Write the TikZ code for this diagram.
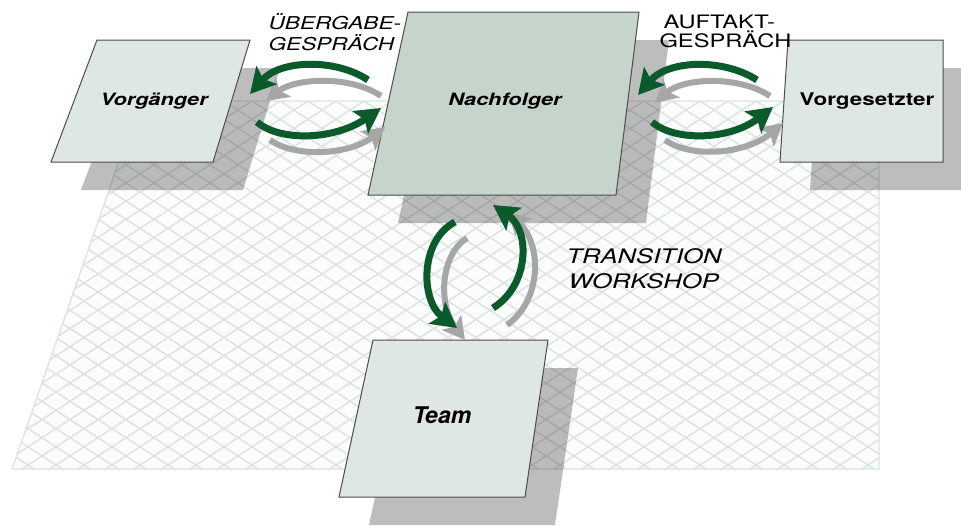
\documentclass[tikz,border=0pt]{standalone}
\usepackage{fontspec}
\usepackage{xcolor}
\usepackage{tikz}
\usetikzlibrary{arrows.meta}

\newfontfamily\hvwide[FakeStretch=1.28]{TeX Gyre Heros}
\newfontfamily\hvnorm{TeX Gyre Heros}

\definecolor{cardfill}{HTML}{DFE7E3}
\definecolor{carddark}{HTML}{C6D5CC}
\definecolor{talkgreen}{HTML}{0B5A2C}
\definecolor{talkgrey}{HTML}{A6A6A6}
\definecolor{hatchcol}{HTML}{DCE2E2}
\definecolor{floorcol}{HTML}{FBFCFC}

\tikzset{
    card/.style={draw=black!70, line width=1pt, fill=cardfill},
    cardshadow/.style={fill=black, fill opacity=0.26},
    hatch/.style={draw=hatchcol, line width=1.4pt},
    greenarrow/.style={draw=talkgreen, line width=7pt, -{Stealth[length=25pt,width=27pt,inset=5pt]}},
    greyarrow/.style={draw=talkgrey, line width=6pt, -{Stealth[length=22pt,width=24pt,inset=5pt]}},
    cardlabel/.style={anchor=base, font=\hvwide\bfseries\itshape\fontsize{17}{18}\selectfont},
    talklabel/.style={anchor=base west, font=\hvwide\itshape\fontsize{17.7}{21}\selectfont},
}

\begin{document}
\begin{tikzpicture}[x=1pt, y=-1pt]
    \useasboundingbox (0,0) rectangle (961,525);

    % Floor
    \coordinate (floor-tl) at (140,101);
    \coordinate (floor-tr) at (879,101);
    \coordinate (floor-br) at (879,469);
    \coordinate (floor-bl) at (12,469);
    \fill[floorcol] (floor-tl) -- (floor-tr) -- (floor-br) -- (floor-bl) -- cycle;
    \begin{scope}
        \clip (floor-tl) -- (floor-tr) -- (floor-br) -- (floor-bl) -- cycle;
        \foreach \k in {-22,...,55} {
            \draw[hatch] (\k*28, 101) -- ++(620, 403);
            \draw[hatch] (\k*28, 101) -- ++(-620, 403);
        }
    \end{scope}
    \draw[hatchcol, line width=1.3pt] (floor-tl) -- (floor-tr) -- (floor-br) -- (floor-bl) -- cycle;

    % Shadows
    \fill[cardshadow] (127,68) -- (280,68) -- (243,190) -- (81,190) -- cycle;
    \fill[cardshadow] (438,40) -- (669,40) -- (646,223) -- (398,223) -- cycle;
    \fill[cardshadow] (818,68) -- (973,68) -- (973,190) -- (810,190) -- cycle;
    \fill[cardshadow] (403,368) -- (578,368) -- (555,525) -- (369,525) -- cycle;

    % Vorgaenger
    \draw[card] (97,40) -- (250,40) -- (213,162) -- (51,162) -- cycle;
    \node[cardlabel] (vorgaenger) at (154,105) {Vorgänger};

    % Nachfolger
    \draw[card, fill=carddark] (408,12) -- (639,12) -- (616,195) -- (368,195) -- cycle;
    \node[cardlabel] (nachfolger) at (505,105) {Nachfolger};

    % Vorgesetzter
    \draw[card] (788,40) -- (943,40) -- (943,162) -- (780,162) -- cycle;
    \node[cardlabel, font=\hvwide\bfseries\fontsize{17.5}{18}\selectfont] (vorgesetzter) at (867,105) {Vorgesetzter};

    % Team
    \draw[card] (373,340) -- (548,340) -- (525,497) -- (339,497) -- cycle;
    \node[cardlabel, font=\hvnorm\bfseries\itshape\fontsize{23}{25}\selectfont] (team) at (442,423) {Team};

    % Arrow ends
    \coordinate (ue-back-s) at (368,80);   \coordinate (ue-back-e) at (250,94);
    \coordinate (ue-backsh-s) at (381,96); \coordinate (ue-backsh-e) at (266,101);
    \coordinate (ue-fwd-s) at (257,122);   \coordinate (ue-fwd-e) at (381,108);
    \coordinate (ue-fwdsh-s) at (270,140); \coordinate (ue-fwdsh-e) at (385,127);
    \coordinate (au-back-s) at (757,80);   \coordinate (au-back-e) at (638,95);
    \coordinate (au-backsh-s) at (770,96); \coordinate (au-backsh-e) at (655,103);
    \coordinate (au-fwd-s) at (652,122);   \coordinate (au-fwd-e) at (773,107);
    \coordinate (au-fwdsh-s) at (665,140); \coordinate (au-fwdsh-e) at (783,123);
    \coordinate (tw-down-s) at (455,222);  \coordinate (tw-down-e) at (457,328);
    \coordinate (tw-downsh-s) at (467,238);\coordinate (tw-downsh-e) at (465,340);
    \coordinate (tw-up-s) at (493,308);    \coordinate (tw-up-e) at (493,205);
    \coordinate (tw-upsh-s) at (507,325);  \coordinate (tw-upsh-e) at (508,212);

    % Grey arrows
    \draw[greyarrow] (ue-backsh-s) .. controls (350,75) and (295,78) .. (ue-backsh-e);
    \draw[greyarrow] (ue-fwdsh-s) .. controls (295,158) and (350,155) .. (ue-fwdsh-e);
    \draw[greyarrow] (au-backsh-s) .. controls (738,75) and (683,78) .. (au-backsh-e);
    \draw[greyarrow] (au-fwdsh-s) .. controls (690,158) and (745,155) .. (au-fwdsh-e);
    \draw[greyarrow] (tw-downsh-s) .. controls (440,255) and (438,305) .. (tw-downsh-e);
    \draw[greyarrow] (tw-upsh-s) .. controls (542,300) and (542,245) .. (tw-upsh-e);

    % Green arrows
    \draw[greenarrow] (ue-back-s) .. controls (335,58) and (280,60) .. (ue-back-e);
    \draw[greenarrow] (ue-fwd-s) .. controls (280,142) and (335,140) .. (ue-fwd-e);
    \draw[greenarrow] (au-back-s) .. controls (723,58) and (668,60) .. (au-back-e);
    \draw[greenarrow] (au-fwd-s) .. controls (675,142) and (730,140) .. (au-fwd-e);
    \draw[greenarrow] (tw-down-s) .. controls (420,240) and (420,300) .. (tw-down-e);
    \draw[greenarrow] (tw-up-s) .. controls (530,285) and (530,230) .. (tw-up-e);

    % Labels
    \node[talklabel] (uebergabe) at (265,29) {ÜBERGABE-};
    \node[talklabel] (uebergabe-2) at (265,50) {GESPRÄCH};
    \node[talklabel, font=\hvwide\fontsize{18.5}{21}\selectfont] (auftakt) at (660,28) {AUFTAKT-};
    \node[talklabel, font=\hvwide\fontsize{18.5}{21}\selectfont] (auftakt-2) at (656,47) {GESPRÄCH};
    \node[talklabel, font=\hvwide\itshape\fontsize{20}{24}\selectfont] (transition) at (563,263) {TRANSITION};
    \node[talklabel, font=\hvwide\itshape\fontsize{20}{24}\selectfont] (workshop) at (565,288) {WORKSHOP};
\end{tikzpicture}
\end{document}
